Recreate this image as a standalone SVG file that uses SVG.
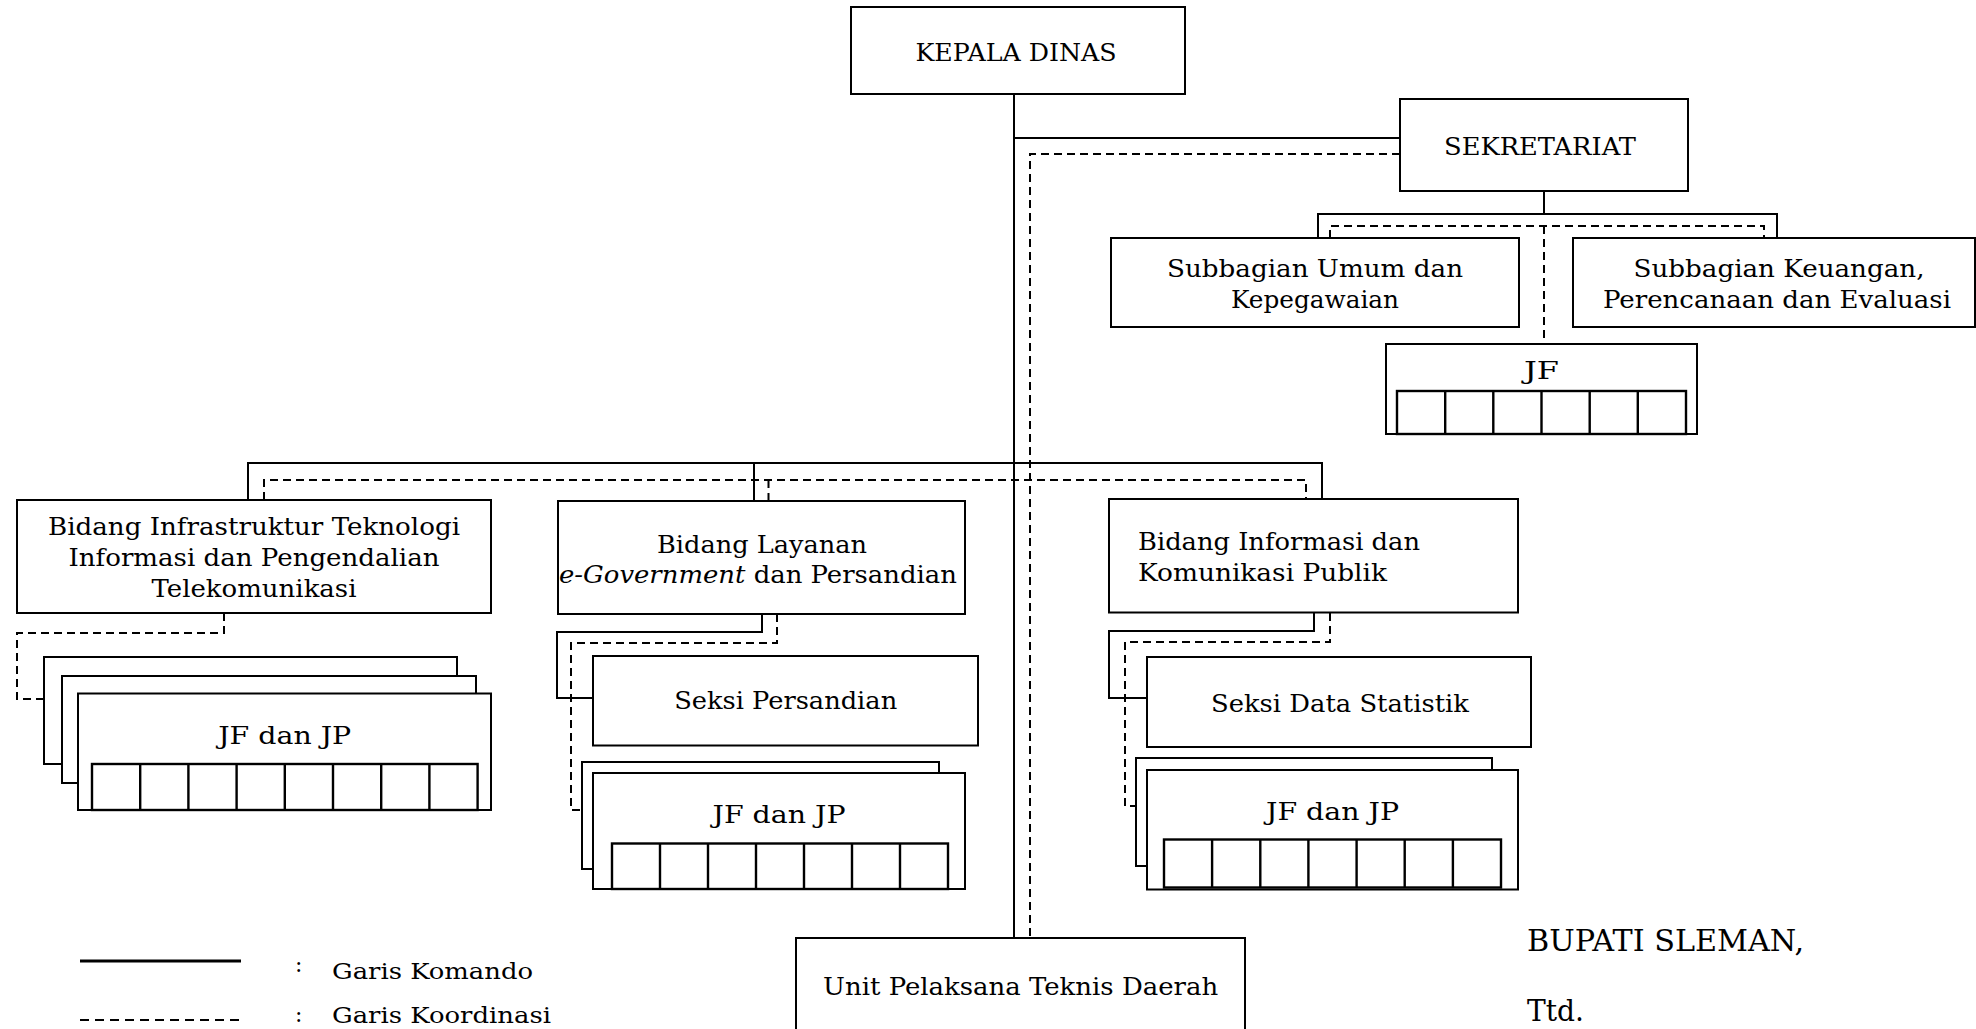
<svg xmlns="http://www.w3.org/2000/svg" width="1976" height="1029" viewBox="0 0 1976 1029">
<style>
  .box{fill:#fff;stroke:#000;stroke-width:2}
  .cell{fill:none;stroke:#000;stroke-width:2.4}
  .ln{fill:none;stroke:#000;stroke-width:2}
  .dash{stroke-dasharray:8 5}
  .t{font-family:"DejaVu Serif","Liberation Serif",serif;font-size:25px;fill:#000}
  .c{text-anchor:middle}
  .s{font-size:22px}
  .b{font-size:29px}
</style>
<rect width="1976" height="1029" fill="#fff"/>
<g id="connectors">
  <path class="ln" d="M1014 94 V938 M1014 138 H1400"/>
  <path class="ln" d="M1544 191 V214 M1318 238 V214 H1777 V238"/>
  <path class="ln" d="M248 500 V463 H1322 V499 M754 463 V501"/>
  <path class="ln" d="M762 614 V632 H557 V698 H593"/>
  <path class="ln" d="M1314 613 V631 H1109 V698 H1147"/>
  <path class="ln dash" d="M1400 154 H1030 V938"/>
  <path class="ln dash" d="M1330 238 V226 H1764 V238 M1544 226 V344"/>
  <path class="ln dash" d="M264 500 V480 H1306 V499 M768.5 480 V501"/>
  <path class="ln dash" d="M224 613 V633 H17 V699 H44"/>
  <path class="ln dash" d="M777 614 V643 H571 V810 H582"/>
  <path class="ln dash" d="M1330 613 V642 H1125 V806 H1136"/>
</g>
<g id="kepala-dinas">
  <rect class="box" x="851" y="7" width="334" height="87"/>
  <text class="t c" x="1016" y="61" textLength="201" lengthAdjust="spacingAndGlyphs">KEPALA DINAS</text>
</g>
<g id="sekretariat">
  <rect class="box" x="1400" y="99" width="288" height="92"/>
  <text class="t c" x="1540" y="155" textLength="192" lengthAdjust="spacingAndGlyphs">SEKRETARIAT</text>
</g>
<g id="subbagian-umum">
  <rect class="box" x="1111" y="238" width="408" height="89"/>
  <text class="t c" x="1315" y="277" textLength="296" lengthAdjust="spacingAndGlyphs">Subbagian Umum dan</text>
  <text class="t c" x="1315" y="308" textLength="168" lengthAdjust="spacingAndGlyphs">Kepegawaian</text>
</g>
<g id="subbagian-keuangan">
  <rect class="box" x="1573" y="238" width="402" height="89"/>
  <text class="t c" x="1779" y="277" textLength="291" lengthAdjust="spacingAndGlyphs">Subbagian Keuangan,</text>
  <text class="t c" x="1777" y="308" textLength="348" lengthAdjust="spacingAndGlyphs">Perencanaan dan Evaluasi</text>
</g>
<g id="jf-sekretariat">
  <rect class="box" x="1386" y="344" width="311" height="90"/>
  <text class="t c" x="1541.5" y="379" textLength="35" lengthAdjust="spacingAndGlyphs">JF</text>
  <rect class="cell" x="1397" y="391" width="289" height="43"/>
  <path class="cell" d="M1445.2 391 V434 M1493.3 391 V434 M1541.5 391 V434 M1589.7 391 V434 M1637.8 391 V434"/>
</g>
<g id="bidang-infrastruktur">
  <rect class="box" x="17" y="500" width="474" height="113"/>
  <text class="t c" x="254" y="535" textLength="412" lengthAdjust="spacingAndGlyphs">Bidang Infrastruktur Teknologi</text>
  <text class="t c" x="254" y="566" textLength="371" lengthAdjust="spacingAndGlyphs">Informasi dan Pengendalian</text>
  <text class="t c" x="254" y="597" textLength="205" lengthAdjust="spacingAndGlyphs">Telekomunikasi</text>
</g>
<g id="jf-infrastruktur">
  <rect class="box" x="44" y="657" width="413" height="107"/>
  <rect class="box" x="62" y="676" width="414" height="107"/>
  <rect class="box" x="78" y="693.5" width="413" height="116.5"/>
  <text class="t c" x="284.7" y="744" textLength="133" lengthAdjust="spacingAndGlyphs">JF dan JP</text>
  <rect class="cell" x="92" y="764" width="385.6" height="46"/>
  <path class="cell" d="M140.2 764 V810 M188.4 764 V810 M236.6 764 V810 M284.8 764 V810 M333 764 V810 M381.2 764 V810 M429.4 764 V810"/>
</g>
<g id="bidang-layanan">
  <rect class="box" x="558" y="501" width="407" height="113"/>
  <text class="t c" x="762" y="553" textLength="210" lengthAdjust="spacingAndGlyphs">Bidang Layanan</text>
  <text class="t c" x="758" y="583" textLength="398" lengthAdjust="spacingAndGlyphs"><tspan font-style="italic">e-Government</tspan> dan Persandian</text>
</g>
<g id="seksi-persandian">
  <rect class="box" x="593" y="656" width="385" height="89.5"/>
  <text class="t c" x="785.7" y="709" textLength="223" lengthAdjust="spacingAndGlyphs">Seksi Persandian</text>
</g>
<g id="jf-layanan">
  <rect class="box" x="582" y="762" width="357" height="107"/>
  <rect class="box" x="593" y="773" width="372" height="116"/>
  <text class="t c" x="779" y="823" textLength="133" lengthAdjust="spacingAndGlyphs">JF dan JP</text>
  <rect class="cell" x="612" y="843.5" width="336" height="45.5"/>
  <path class="cell" d="M660 843.5 V889 M708 843.5 V889 M756 843.5 V889 M804 843.5 V889 M852 843.5 V889 M900 843.5 V889"/>
</g>
<g id="bidang-informasi">
  <rect class="box" x="1109" y="499" width="409" height="113.5"/>
  <text class="t" x="1138" y="550" textLength="282" lengthAdjust="spacingAndGlyphs">Bidang Informasi dan</text>
  <text class="t" x="1138" y="581" textLength="249" lengthAdjust="spacingAndGlyphs">Komunikasi Publik</text>
</g>
<g id="seksi-data-statistik">
  <rect class="box" x="1147" y="657" width="384" height="90"/>
  <text class="t c" x="1340" y="712" textLength="258" lengthAdjust="spacingAndGlyphs">Seksi Data Statistik</text>
</g>
<g id="jf-informasi">
  <rect class="box" x="1136" y="758" width="356" height="108"/>
  <rect class="box" x="1147" y="770" width="371" height="119.5"/>
  <text class="t c" x="1332.5" y="820" textLength="133" lengthAdjust="spacingAndGlyphs">JF dan JP</text>
  <rect class="cell" x="1164" y="839.5" width="337" height="48"/>
  <path class="cell" d="M1212.1 839.5 V887.5 M1260.3 839.5 V887.5 M1308.4 839.5 V887.5 M1356.6 839.5 V887.5 M1404.7 839.5 V887.5 M1452.9 839.5 V887.5"/>
</g>
<g id="uptd">
  <rect class="box" x="796" y="938" width="449" height="120"/>
  <text class="t c" x="1020.6" y="995" textLength="395" lengthAdjust="spacingAndGlyphs">Unit Pelaksana Teknis Daerah</text>
</g>
<g id="legend">
  <path d="M80 961 H241" stroke="#000" stroke-width="3"/>
  <path d="M80 1020 H241" stroke="#000" stroke-width="2" stroke-dasharray="9 6"/>
  <text class="t s" x="295" y="972">:</text>
  <text class="t s" x="295" y="1022">:</text>
  <text class="t s" x="332" y="979" textLength="201" lengthAdjust="spacingAndGlyphs">Garis Komando</text>
  <text class="t s" x="332" y="1023" textLength="219" lengthAdjust="spacingAndGlyphs">Garis Koordinasi</text>
</g>
<g id="signature">
  <text class="t b" x="1527" y="951" textLength="277" lengthAdjust="spacingAndGlyphs">BUPATI SLEMAN,</text>
  <text class="t b" x="1527" y="1021" textLength="57" lengthAdjust="spacingAndGlyphs">Ttd.</text>
</g>
</svg>
